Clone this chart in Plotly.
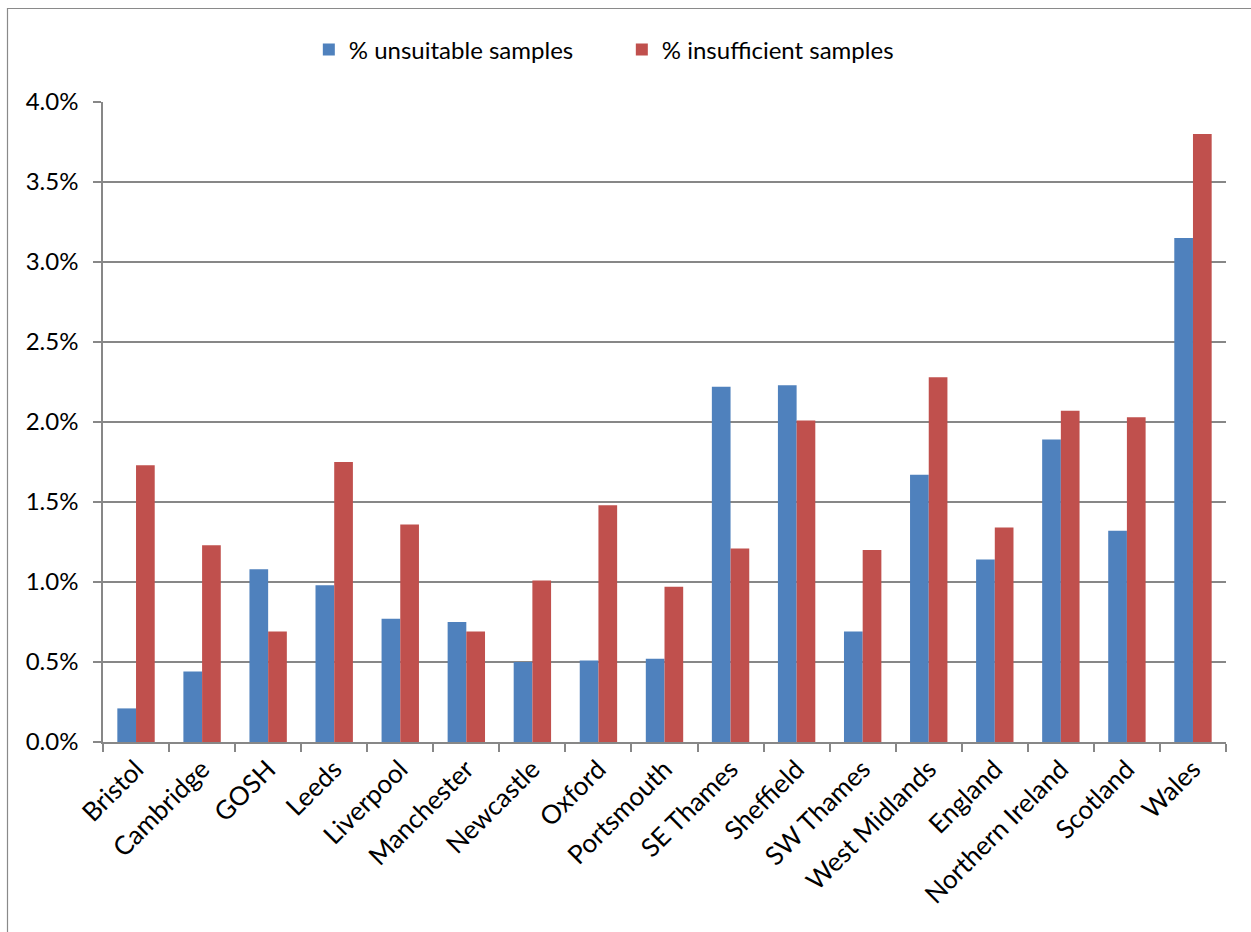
import plotly.graph_objects as go

# Sample quality by screening laboratory / nation (percent of samples)
labs = ["Bristol", "Cambridge", "GOSH", "Leeds", "Liverpool", "Manchester",
        "Newcastle", "Oxford", "Portsmouth", "SE Thames", "Sheffield",
        "SW Thames", "West Midlands", "England", "Northern Ireland",
        "Scotland", "Wales"]
unsuitable_pct = [0.21, 0.44, 1.08, 0.98, 0.77, 0.75, 0.50, 0.51, 0.52,
                  2.22, 2.23, 0.69, 1.67, 1.14, 1.89, 1.32, 3.15]
insufficient_pct = [1.73, 1.23, 0.69, 1.75, 1.36, 0.69, 1.01, 1.48, 0.97,
                    1.21, 2.01, 1.20, 2.28, 1.34, 2.07, 2.03, 3.80]
y_ticks = [0.0, 0.5, 1.0, 1.5, 2.0, 2.5, 3.0, 3.5, 4.0]

W, H = 1251, 932
ML, MR, MT, MB = 103, 25, 102, 190
PW, PH = W - ML - MR, H - MT - MB

def px_x(x):
    return (x - ML) / PW

def px_y(y):
    return (H - MB - y) / PH

FONT = "Lato, 'Open Sans', sans-serif"
GRID = "#878787"

fig = go.Figure()
fig.add_trace(go.Bar(name="% unsuitable samples", x=labs, y=unsuitable_pct,
                     marker=dict(color="#4F81BD", line=dict(width=0))))
fig.add_trace(go.Bar(name="% insufficient samples", x=labs, y=insufficient_pct,
                     marker=dict(color="#C0504D", line=dict(width=0))))

fig.update_layout(
    width=W, height=H,
    margin=dict(l=ML, r=MR, t=MT, b=MB, pad=0),
    paper_bgcolor="white", plot_bgcolor="white",
    barmode="group", bargap=0.434, bargroupgap=0,
    font=dict(family=FONT, size=24, color="black"),
    legend=dict(orientation="h", x=0.462, xanchor="center",
                y=px_y(50), yanchor="middle",
                font=dict(size=24), itemwidth=30,
                entrywidth=268, traceorder="normal"),
    showlegend=True,
    shapes=[dict(type="rect", xref="paper", yref="paper",
                 x0=px_x(7.5), x1=px_x(1262), y0=px_y(8.5), y1=px_y(945),
                 line=dict(color="#8a8a8a", width=1.2), layer="below")],
)

fig.update_xaxes(
    type="category", tickangle=-45, tickson="boundaries",
    ticks="outside", ticklen=8, tickcolor=GRID, tickwidth=1.5,
    showline=True, linecolor=GRID, linewidth=1.5,
    showgrid=False, tickfont=dict(size=26),
)
fig.update_yaxes(
    range=[0, 4], tickvals=y_ticks,
    ticktext=[f"{v:.1f}%" for v in y_ticks],
    ticks="outside", ticklen=8, tickcolor=GRID, tickwidth=1.5,
    showline=True, linecolor=GRID, linewidth=1.5,
    showgrid=True, gridcolor=GRID, gridwidth=1.5,
    zeroline=False, tickfont=dict(size=24), ticklabelstandoff=10,
)

fig.write_html("out.html")
